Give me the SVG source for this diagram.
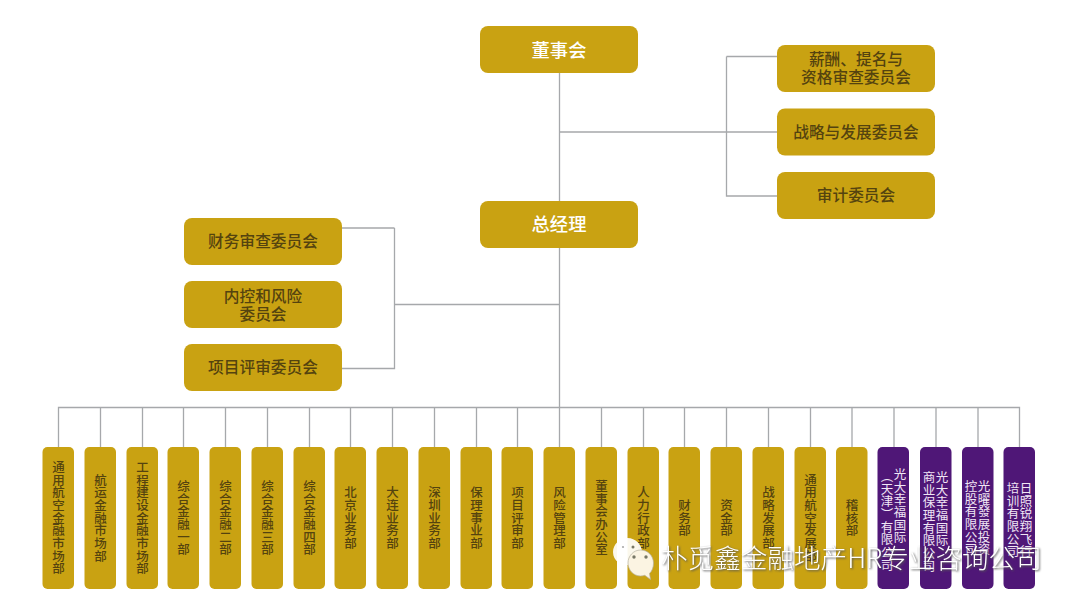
<svg xmlns="http://www.w3.org/2000/svg" width="1080" height="606" viewBox="0 0 1080 606">
<style>
text{font-family:"Noto Sans CJK SC","Noto Sans",sans-serif;text-anchor:middle}
.g{fill:#c9a212}.p{fill:#4f1777}
.l{fill:none;stroke:#a6a8ab;stroke-width:1.3}
.w{fill:#fff;font-size:18.300px;font-weight:500}
.d{fill:#54430f;font-size:15.700px;font-weight:500}
.v{fill:#54430f;font-size:12.500px;font-weight:500;letter-spacing:.2px;writing-mode:vertical-rl}
.vp{fill:#f1e6f5;font-size:12.500px;letter-spacing:.2px;writing-mode:vertical-rl;text-anchor:start}
.wm{fill:#fff;font-size:26.600px;font-weight:300;text-anchor:start;filter:drop-shadow(1px 1px 1px #555)}
</style>
<rect width="1080" height="606" fill="#fff"/>
<g id="connectors" class="l">
<path d="M559.500 73V407M559.500 132H777M726.500 56.500H777M726.500 56.500V196H777M559.500 304.500H394.500M394.500 228H342M394.500 228V368.500H342"/>
<path d="M58.500 447V407.500H1019.500V447M100.500 407V447M142.500 407V447M183.500 407V447M225.500 407V447M267.500 407V447M309.500 407V447M350.500 407V447M392.500 407V447M434.500 407V447M476.500 407V447M517.500 407V447M559.500 407V447M601.500 407V447M643.500 407V447M684.500 407V447M726.500 407V447M768.500 407V447M810.500 407V447M852 407V447M894 407V447M936 407V447M978 407V447"/>
</g>
<g id="n-board"><rect class="g" x="480" y="26" width="158" height="47" rx="8"/><text class="w" x="559" y="57">董事会</text></g>
<g id="n-gm"><rect class="g" x="480" y="201" width="158" height="47" rx="8"/><text class="w" x="559" y="231">总经理</text></g>
<g id="n-c1"><rect class="g" x="777" y="45" width="158" height="47" rx="8"/><text class="d" x="856" y="65">薪酬、提名与<tspan x="856" dy="18">资格审查委员会</tspan></text></g>
<g id="n-c2"><rect class="g" x="777" y="108.500" width="158" height="47" rx="8"/><text class="d" x="856" y="138">战略与发展委员会</text></g>
<g id="n-c3"><rect class="g" x="777" y="172" width="158" height="47" rx="8"/><text class="d" x="856" y="201">审计委员会</text></g>
<g id="n-l1"><rect class="g" x="184" y="218" width="158" height="47" rx="8"/><text class="d" x="263" y="247">财务审查委员会</text></g>
<g id="n-l2"><rect class="g" x="184" y="281" width="158" height="47" rx="8"/><text class="d" x="263" y="302">内控和风险<tspan x="263" dy="18">委员会</tspan></text></g>
<g id="n-l3"><rect class="g" x="184" y="344" width="158" height="47" rx="8"/><text class="d" x="263" y="373">项目评审委员会</text></g>
<g id="n-d1"><rect class="g" x="42.500" y="447" width="31.500" height="142" rx="5"/><text class="v" x="58.500" y="518">通用航空金融市场部</text></g>
<g id="n-d2"><rect class="g" x="84.500" y="447" width="31.500" height="142" rx="5"/><text class="v" x="100.500" y="518">航运金融市场部</text></g>
<g id="n-d3"><rect class="g" x="126.500" y="447" width="31.500" height="142" rx="5"/><text class="v" x="142.500" y="518">工程建设金融市场部</text></g>
<g id="n-d4"><rect class="g" x="167.500" y="447" width="31.500" height="142" rx="5"/><text class="v" x="183.500" y="518">综合金融一部</text></g>
<g id="n-d5"><rect class="g" x="209.500" y="447" width="31.500" height="142" rx="5"/><text class="v" x="225.500" y="518">综合金融二部</text></g>
<g id="n-d6"><rect class="g" x="251.500" y="447" width="31.500" height="142" rx="5"/><text class="v" x="267.500" y="518">综合金融三部</text></g>
<g id="n-d7"><rect class="g" x="293.500" y="447" width="31.500" height="142" rx="5"/><text class="v" x="309.500" y="518">综合金融四部</text></g>
<g id="n-d8"><rect class="g" x="334.500" y="447" width="31.500" height="142" rx="5"/><text class="v" x="350.500" y="518">北京业务部</text></g>
<g id="n-d9"><rect class="g" x="376.500" y="447" width="31.500" height="142" rx="5"/><text class="v" x="392.500" y="518">大连业务部</text></g>
<g id="n-d10"><rect class="g" x="418.500" y="447" width="31.500" height="142" rx="5"/><text class="v" x="434.500" y="518">深圳业务部</text></g>
<g id="n-d11"><rect class="g" x="460.500" y="447" width="31.500" height="142" rx="5"/><text class="v" x="476.500" y="518">保理事业部</text></g>
<g id="n-d12"><rect class="g" x="501.500" y="447" width="31.500" height="142" rx="5"/><text class="v" x="517.500" y="518">项目评审部</text></g>
<g id="n-d13"><rect class="g" x="543.500" y="447" width="31.500" height="142" rx="5"/><text class="v" x="559.500" y="518">风险管理部</text></g>
<g id="n-d14"><rect class="g" x="585.500" y="447" width="31.500" height="142" rx="5"/><text class="v" x="601.500" y="518">董事会办公室</text></g>
<g id="n-d15"><rect class="g" x="627.500" y="447" width="31.500" height="142" rx="5"/><text class="v" x="643.500" y="518">人力行政部</text></g>
<g id="n-d16"><rect class="g" x="668.500" y="447" width="31.500" height="142" rx="5"/><text class="v" x="684.500" y="518">财务部</text></g>
<g id="n-d17"><rect class="g" x="710.500" y="447" width="31.500" height="142" rx="5"/><text class="v" x="726.500" y="518">资金部</text></g>
<g id="n-d18"><rect class="g" x="752.500" y="447" width="31.500" height="142" rx="5"/><text class="v" x="768.500" y="518">战略发展部</text></g>
<g id="n-d19"><rect class="g" x="794.500" y="447" width="31.500" height="142" rx="5"/><text class="v" x="810.500" y="518">通用航空发展部</text></g>
<g id="n-d20"><rect class="g" x="836" y="447" width="31.500" height="142" rx="5"/><text class="v" x="852" y="518">稽核部</text></g>
<g id="n-s1"><rect class="p" x="877.500" y="447" width="31.500" height="142" rx="5"/><text class="vp" x="900" y="468">光大幸福国际</text><text class="vp" x="887" y="470">（天津）有限公司</text></g>
<g id="n-s2"><rect class="p" x="920" y="447" width="31.500" height="142" rx="5"/><text class="vp" x="942" y="471">光大幸福国际</text><text class="vp" x="929" y="471">商业保理有限公司</text></g>
<g id="n-s3"><rect class="p" x="962" y="447" width="31.500" height="142" rx="5"/><text class="vp" x="984" y="480">光曜發展投资</text><text class="vp" x="971" y="480">控股有限公司</text></g>
<g id="n-s4"><rect class="p" x="1003.500" y="447" width="31.500" height="142" rx="5"/><text class="vp" x="1026" y="482">日照锐翔飞行</text><text class="vp" x="1013" y="482">培训有限公司</text></g>
<g id="watermark">
<path d="M627.500 538c-8 0-14.500 6.500-14.500 14 0 4.500 2 8 5.500 10.500l-1.500 5 6-3c1.500.4 3 .5 4.500.5 8 0 14.500-5.500 14.500-13 0-7.500-6.500-14-14.500-14z" fill="#fff" opacity=".92"/>
<path d="M640.500 550c-7 0-12.500 6-12.500 13 0 7 5.500 13 12.500 13 1.500 0 3-.2 4.300-.7l5.700 4.200-1-6c2.500-2.400 4-6 4-10.500 0-7-5.500-13-13-13z" fill="#fbf4e2" stroke="#b5b0a0" stroke-width=".7"/>
<circle cx="623" cy="547" r="1.100" fill="#aaa"/><circle cx="633" cy="547" r="1.500" fill="#776"/>
<circle cx="634" cy="557" r="1.700" fill="#776"/><circle cx="646" cy="557" r="1.700" fill="#776"/>
<text class="wm" x="661" y="568">朴觅鑫金融地产HR专业咨询公司</text>
</g>
</svg>
